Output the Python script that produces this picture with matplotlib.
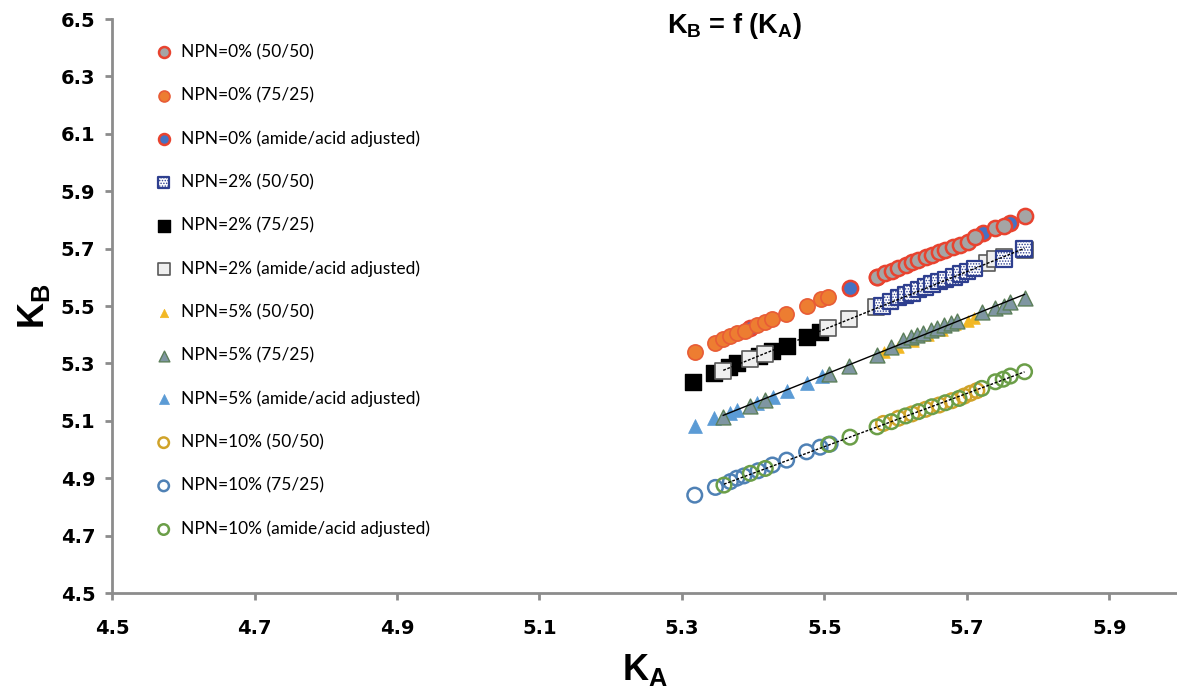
import numpy as np
import matplotlib
matplotlib.use('Agg')
import matplotlib.pyplot as plt

plt.rcParams['mathtext.fontset'] = 'custom'
plt.rcParams['mathtext.rm'] = 'Liberation Sans'
plt.rcParams['mathtext.bf'] = 'Liberation Sans:bold'
plt.rcParams['hatch.color'] = '#444444'
plt.rcParams['hatch.linewidth'] = 0.7

# NPN = 0%
npn0_5050_ka = [5.574, 5.585, 5.595, 5.604, 5.614, 5.623, 5.632, 5.642, 5.651, 5.661, 5.670,
                5.681, 5.691, 5.701, 5.712, 5.740, 5.752, 5.781]
npn0_5050_kb = [5.602, 5.614, 5.623, 5.633, 5.643, 5.652, 5.660, 5.670, 5.678, 5.687, 5.695,
                5.705, 5.714, 5.724, 5.739, 5.771, 5.780, 5.815]
npn0_7525_ka = [5.318, 5.347, 5.358, 5.367, 5.377, 5.388, 5.406, 5.416, 5.427, 5.446, 5.475, 5.495, 5.505]
npn0_7525_kb = [5.341, 5.372, 5.384, 5.395, 5.405, 5.413, 5.433, 5.443, 5.455, 5.471, 5.501, 5.523, 5.532]
npn0_adj_ka = [5.396, 5.536, 5.574, 5.723, 5.761]
npn0_adj_kb = [5.424, 5.562, 5.602, 5.753, 5.790]

# NPN = 2%
npn2_5050_ka = [5.581, 5.593, 5.604, 5.614, 5.623, 5.632, 5.642, 5.651, 5.661, 5.670, 5.682,
                5.691, 5.701, 5.711, 5.752, 5.780]
npn2_5050_kb = [5.500, 5.515, 5.530, 5.538, 5.546, 5.558, 5.567, 5.577, 5.585, 5.593, 5.602,
                5.611, 5.620, 5.631, 5.663, 5.698]
npn2_7525_ka = [5.316, 5.345, 5.366, 5.377, 5.408, 5.427, 5.447, 5.476, 5.494]
npn2_7525_kb = [5.236, 5.266, 5.289, 5.300, 5.326, 5.343, 5.362, 5.393, 5.410]
npn2_adj_ka = [5.358, 5.396, 5.416, 5.505, 5.534, 5.573, 5.728, 5.740, 5.752, 5.781]
npn2_adj_kb = [5.275, 5.314, 5.333, 5.422, 5.455, 5.495, 5.650, 5.663, 5.671, 5.696]

# NPN = 5%
npn5_5050_ka = [5.583, 5.604, 5.625, 5.645, 5.665, 5.684, 5.702, 5.710]
npn5_5050_kb = [5.341, 5.358, 5.378, 5.398, 5.418, 5.438, 5.449, 5.458]
npn5_7525_ka = [5.358, 5.396, 5.417, 5.506, 5.534, 5.574, 5.593, 5.611, 5.621, 5.630, 5.639,
                5.649, 5.658, 5.668, 5.678, 5.686, 5.721, 5.740, 5.752, 5.761, 5.781]
npn5_7525_kb = [5.114, 5.152, 5.172, 5.263, 5.292, 5.329, 5.358, 5.382, 5.391, 5.399, 5.407,
                5.416, 5.424, 5.433, 5.440, 5.449, 5.480, 5.492, 5.500, 5.515, 5.527]
npn5_adj_ka = [5.318, 5.345, 5.368, 5.377, 5.405, 5.428, 5.447, 5.475, 5.497]
npn5_adj_kb = [5.082, 5.109, 5.126, 5.138, 5.161, 5.184, 5.205, 5.233, 5.256]

# NPN = 10%
npn10_5050_ka = [5.583, 5.604, 5.623, 5.642, 5.661, 5.679, 5.696, 5.705, 5.714]
npn10_5050_kb = [5.091, 5.109, 5.124, 5.140, 5.155, 5.170, 5.186, 5.196, 5.205]
npn10_7525_ka = [5.318, 5.347, 5.368, 5.377, 5.387, 5.407, 5.427, 5.447, 5.475, 5.494, 5.508]
npn10_7525_kb = [4.841, 4.868, 4.888, 4.900, 4.908, 4.926, 4.946, 4.963, 4.992, 5.008, 5.019]
npn10_adj_ka = [5.359, 5.396, 5.417, 5.506, 5.536, 5.574, 5.594, 5.614, 5.632, 5.651, 5.670,
                5.689, 5.721, 5.740, 5.751, 5.761, 5.781]
npn10_adj_kb = [4.876, 4.917, 4.934, 5.018, 5.043, 5.079, 5.097, 5.117, 5.132, 5.149, 5.163,
                5.178, 5.213, 5.236, 5.245, 5.256, 5.271]

x_ticks = [4.5, 4.7, 4.9, 5.1, 5.3, 5.5, 5.7, 5.9]
y_ticks = [4.5, 4.7, 4.9, 5.1, 5.3, 5.5, 5.7, 5.9, 6.1, 6.3, 6.5]

# label, ka, kb, marker, size, face, edge, edge width, hatch, zorder
series = [
    ('NPN=0% (50/50)', npn0_5050_ka, npn0_5050_kb, 'o', 120, '#a5a5a5', '#e8432f', 1.8, None, 3),
    ('NPN=0% (75/25)', npn0_7525_ka, npn0_7525_kb, 'o', 120, '#ed7d31', '#e85c36', 1.2, None, 3),
    ('NPN=0% (amide/acid adjusted)', npn0_adj_ka, npn0_adj_kb, 'o', 120, '#4472c4', '#e8432f', 1.8, None, 2),
    ('NPN=2% (50/50)', npn2_5050_ka, npn2_5050_kb, 's', 125, '#ffffff', '#2e3f8f', 1.6, '......', 4),
    ('NPN=2% (75/25)', npn2_7525_ka, npn2_7525_kb, 's', 125, '#000000', '#000000', 1.0, None, 2),
    ('NPN=2% (amide/acid adjusted)', npn2_adj_ka, npn2_adj_kb, 's', 125, '#efefef', '#595959', 1.2, None, 3),
    ('NPN=5% (50/50)', npn5_5050_ka, npn5_5050_kb, '^', 70, '#f2b824', '#f2b824', 0.5, None, 2),
    ('NPN=5% (75/25)', npn5_7525_ka, npn5_7525_kb, '^', 115, '#7f96a2', '#5c7f5a', 1.0, None, 3),
    ('NPN=5% (amide/acid adjusted)', npn5_adj_ka, npn5_adj_kb, '^', 100, '#5b9bd5', '#5b9bd5', 0.5, None, 2),
    ('NPN=10% (50/50)', npn10_5050_ka, npn10_5050_kb, 'o', 110, 'none', '#d0a32a', 1.8, None, 2),
    ('NPN=10% (75/25)', npn10_7525_ka, npn10_7525_kb, 'o', 110, 'none', '#4f81b5', 1.8, None, 2),
    ('NPN=10% (amide/acid adjusted)', npn10_adj_ka, npn10_adj_kb, 'o', 110, 'none', '#6b9e48', 1.8, None, 3),
]

fig = plt.figure(figsize=(11.77, 6.97), dpi=100)
ax = fig.add_axes([0.0952, 0.1492, 0.9048, 0.8235])

handles = []
for label, ka, kb, marker, size, fc, ec, lw, hatch, z in series:
    h = ax.scatter(ka, kb, s=size, marker=marker, facecolors=fc, edgecolors=ec,
                   linewidths=lw, hatch=hatch, zorder=z, label=label)
    handles.append(h)

# trendlines
for ka, kb, style in [(npn2_adj_ka, npn2_adj_kb, (0, (2, 1.2))),
                      (npn5_7525_ka, npn5_7525_kb, '-'),
                      (npn10_adj_ka, npn10_adj_kb, (0, (2, 1.2)))]:
    coef = np.polyfit(ka, kb, 1)
    xs = np.array([min(ka), max(ka)])
    ax.plot(xs, np.polyval(coef, xs), color='black', lw=1.0, linestyle=style, zorder=6)

ax.set_xlim(4.5, 5.995)
ax.set_ylim(4.5, 6.5)
ax.set_xticks(x_ticks)
ax.set_yticks(y_ticks)
ax.set_xticklabels([f'{v:.1f}' for v in x_ticks])
ax.set_yticklabels([f'{v:.1f}' for v in y_ticks])
for lbl in ax.get_xticklabels() + ax.get_yticklabels():
    lbl.set_fontweight('bold')
    lbl.set_fontsize(14)
ax.tick_params(axis='both', colors='#8c8c8c', labelcolor='black', width=2, length=5)
ax.tick_params(axis='x', pad=14)
ax.tick_params(axis='y', pad=7)
for side in ['top', 'right']:
    ax.spines[side].set_visible(False)
for side in ['left', 'bottom']:
    ax.spines[side].set_color('#8c8c8c')
    ax.spines[side].set_linewidth(2)

ax.set_xlabel(r'$\mathbf{K_A}$', fontsize=26, labelpad=10)
ax.set_ylabel(r'$\mathbf{K_B}$', fontsize=26, labelpad=6)

fig.text(0.624, 0.962, r'$\mathbf{K_B}$ = f ($\mathbf{K_A}$)', fontsize=19.5,
         fontweight='bold', family='Liberation Sans', ha='center', va='center')

ax.legend(handles=handles, loc='upper left', bbox_to_anchor=(0.1317, 0.937),
          bbox_transform=fig.transFigure, frameon=False, prop={'family': 'Lato', 'size': 12.5},
          labelspacing=1.56, handletextpad=0.5, handlelength=1.0, markerscale=0.72,
          borderaxespad=0, borderpad=0, scatterpoints=1)

fig.savefig('out.png', dpi=100)
